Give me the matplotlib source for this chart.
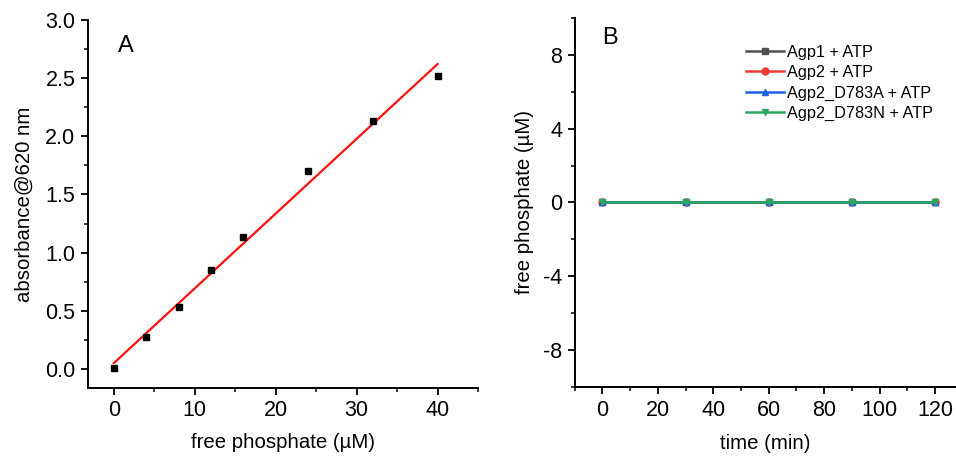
import numpy as np
import matplotlib
matplotlib.use('Agg')
from matplotlib import pyplot as plt
from matplotlib.ticker import MultipleLocator, FormatStrFormatter

plt.rcParams['font.family'] = ['Liberation Sans', 'DejaVu Sans']
plt.rcParams['axes.unicode_minus'] = False

# panel A: standard curve
conc = [0, 4, 8, 12, 16, 24, 32, 40]
absorb = [0.01, 0.27, 0.53, 0.85, 1.13, 1.70, 2.13, 2.52]

# panel B: time course
time = [0, 30, 60, 90, 120]
agp1 = [0, 0, 0, 0, 0]
agp2 = [0, 0, 0, 0, 0]
d783a = [0, 0, 0, 0, 0]
d783n = [0, 0, 0, 0, 0]
labels = ['Agp1 + ATP', 'Agp2 + ATP', 'Agp2_D783A + ATP', 'Agp2_D783N + ATP']

fig = plt.figure(figsize=(9.56, 4.57), dpi=100)
axA = fig.add_axes([0.092, 0.151, 0.408, 0.805])
axB = fig.add_axes([0.601, 0.153, 0.399, 0.808])


def style(ax):
    for s in ['top', 'right']:
        ax.spines[s].set_visible(False)
    for s in ['left', 'bottom']:
        ax.spines[s].set_linewidth(1.4)
    ax.tick_params(which='major', direction='out', length=5, width=1.3,
                   labelsize=15.5, pad=4)
    ax.tick_params(which='minor', direction='out', length=3, width=1.1)


# A
slope, icpt = np.polyfit(conc, absorb, 1)
xfit = np.array([0, 40])
axA.plot(xfit, slope * xfit + icpt, color='#ff1010', lw=1.6, zorder=2)
axA.plot(conc, absorb, 's', color='black', ms=5, zorder=3)
axA.set_xlim(-3.2, 45)
axA.set_ylim(-0.165, 3.0)
axA.xaxis.set_major_locator(MultipleLocator(10))
axA.xaxis.set_minor_locator(MultipleLocator(5))
axA.yaxis.set_major_locator(MultipleLocator(0.5))
axA.yaxis.set_minor_locator(MultipleLocator(0.25))
axA.yaxis.set_major_formatter(FormatStrFormatter('%.1f'))
axA.set_xlabel('free phosphate (µM)', fontsize=14.7, labelpad=8)
axA.set_ylabel('absorbance@620 nm', fontsize=14.7, labelpad=8)
axA.text(0.077, 0.96, 'A', transform=axA.transAxes, fontsize=17, va='top')
style(axA)

# B
series = [(agp1, '#505050', 's'), (agp2, '#f03a3a', 'o'),
          (d783a, '#2060e0', '^'), (d783n, '#2aa862', 'v')]
for (vals, c, m), lab in zip(series, labels):
    axB.plot(time, vals, color=c, marker=m, ms=5, lw=1.8, label=lab)
axB.set_xlim(-10, 127.5)
axB.set_ylim(-10, 10)
axB.xaxis.set_major_locator(MultipleLocator(20))
axB.xaxis.set_minor_locator(MultipleLocator(10))
axB.yaxis.set_major_locator(MultipleLocator(4))
axB.yaxis.set_minor_locator(MultipleLocator(2))
axB.set_xlabel('time (min)', fontsize=14.7, labelpad=10)
axB.set_ylabel('free phosphate (µM)', fontsize=14.7, labelpad=6)
axB.text(0.072, 0.975, 'B', transform=axB.transAxes, fontsize=17, va='top')
axB.legend(loc='upper left', bbox_to_anchor=(0.42, 0.958), frameon=False,
           fontsize=11.7, handlelength=2.3, handletextpad=0.2, labelspacing=0.33,
           borderpad=0.2)
style(axB)

fig.savefig('out.png', dpi=100)
